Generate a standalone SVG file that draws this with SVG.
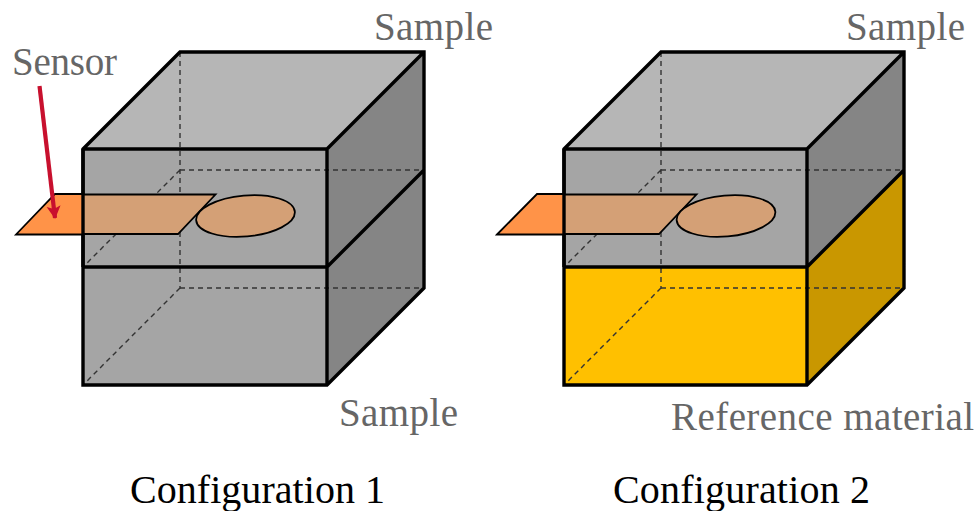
<svg xmlns="http://www.w3.org/2000/svg" width="979" height="511" viewBox="0 0 979 511">
<style>
.o{stroke:#000;stroke-width:3.4;fill:none;stroke-linejoin:miter}
.d{stroke:#333;stroke-width:1.4;stroke-dasharray:5 4;fill:none}
.s{stroke:#000;stroke-width:1.8;stroke-linejoin:miter}
text{font-family:"Liberation Serif","DejaVu Serif",serif}
.g{fill:#666;font-size:39px}
.k{fill:#000;font-size:40px}
</style>
<defs>
<marker id="ah" markerUnits="userSpaceOnUse" markerWidth="16" markerHeight="16" refX="12" refY="7" orient="auto">
<path d="M0 0L13 7L0 14L3 7Z" fill="#c8102e"/>
</marker>
</defs>
<rect width="979" height="511" fill="#fff"/>
<g id="box1">
<path d="M83 149L180 52H424L327 149Z" fill="#b6b6b6"/>
<path d="M83 149H327V385H83Z" fill="#a5a5a5"/>
<path d="M327 149L424 52V288L327 385Z" fill="#858585"/>
<path class="d" d="M180 52V288M180 170H424M180 170L83 267M180 288H424M180 288L83 385"/>
<path class="o" d="M83 149L180 52H424V288L327 385H83ZM83 149H327V385M327 149L424 52M83 267H327L424 170"/>
</g>
<g id="sensor1">
<path class="s" d="M16 234.500L55 194H83V234.500Z" fill="#ff9348"/>
<path class="s" d="M83 194.500H215.500L178 234H83Z" fill="#d4a076"/>
<ellipse class="s" cx="245.500" cy="216" rx="49.500" ry="20.500" transform="rotate(-5 245.500 216)" fill="#d4a076"/>
<path d="M83 149V267" class="o"/>
</g>
<g id="box2">
<path d="M564 149L661 52H904L807 149Z" fill="#b6b6b6"/>
<path d="M564 149H807V267H564Z" fill="#a5a5a5"/>
<path d="M807 149L904 52V170L807 267Z" fill="#858585"/>
<path d="M564 267H807V385H564Z" fill="#ffc000"/>
<path d="M807 267L904 170V288L807 385Z" fill="#c99700"/>
<path class="d" d="M661 52V288M661 170H904M661 170L564 267M661 288H904M661 288L564 385"/>
<path class="o" d="M564 149L661 52H904V288L807 385H564ZM564 149H807V385M807 149L904 52M564 267H807L904 170"/>
</g>
<g id="sensor2">
<path class="s" d="M497 234.500L537 194H564V234.500Z" fill="#ff9348"/>
<path class="s" d="M564 194.500H696.500L659 234H564Z" fill="#d4a076"/>
<ellipse class="s" cx="726" cy="216" rx="49.500" ry="20.500" transform="rotate(-5 726 216)" fill="#d4a076"/>
<path d="M564 149V267" class="o"/>
</g>
<g id="connectors">
<path d="M39.500 86L55 218" stroke="#c8102e" stroke-width="4.200" fill="none" marker-end="url(#ah)"/>
</g>
<g id="labels">
<text class="g" x="374" y="40" textLength="119">Sample</text>
<text class="g" x="846" y="40" textLength="119">Sample</text>
<text class="g" x="12" y="75" textLength="105">Sensor</text>
<text class="g" x="339" y="426" textLength="119">Sample</text>
<text class="g" x="671" y="430" textLength="303">Reference material</text>
<text class="k" x="130" y="503" textLength="255">Configuration 1</text>
<text class="k" x="613" y="503" textLength="257">Configuration 2</text>
</g>
</svg>
